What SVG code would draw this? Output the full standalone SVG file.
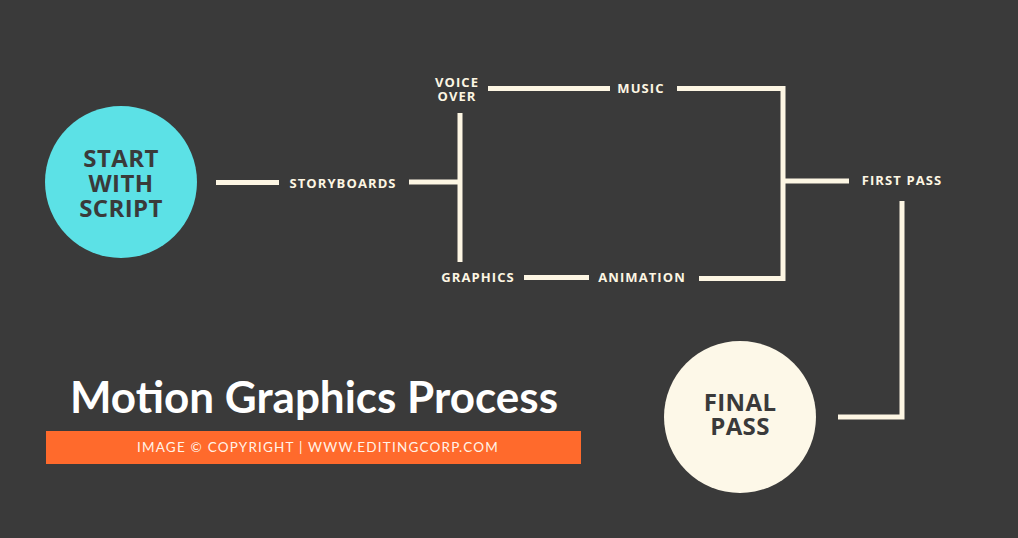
<svg xmlns="http://www.w3.org/2000/svg" width="1018" height="538" viewBox="0 0 1018 538">
<style>
.bg{fill:#3a3a3a}
.ln{stroke:#fdf6e3;stroke-width:5;fill:none;stroke-linecap:butt}
.lbl{font-family:"Open Sans","Liberation Sans",sans-serif;font-weight:700;font-size:13px;fill:#fdf6e3;text-anchor:middle;letter-spacing:1.1px}
.big{font-family:"Open Sans","Liberation Sans",sans-serif;font-weight:700;font-size:24px;fill:#3a3a3a;text-anchor:middle;letter-spacing:0.4px}
.title{font-family:Lato,"Liberation Sans",sans-serif;font-weight:700;font-size:44px;fill:#ffffff;text-anchor:middle}
.copy{font-family:Lato,"Liberation Sans",sans-serif;font-size:13.5px;fill:#fff3e8;text-anchor:middle;letter-spacing:1.2px}
</style>
<rect class="bg" x="0" y="0" width="1018" height="538"/>
<g id="connectors">
<path class="ln" d="M216 182.5H279"/>
<path class="ln" d="M409 182H460"/>
<path class="ln" d="M460 113V262"/>
<path class="ln" d="M488 88.5H610"/>
<path class="ln" d="M677 88.5H783V278.5H699"/>
<path class="ln" d="M524 277.5H589"/>
<path class="ln" d="M783 181H849"/>
<path class="ln" d="M902 201V417H838"/>
</g>
<g id="start">
<circle cx="121" cy="182" r="76" fill="#5ce1e6"/>
<text class="big" x="121" y="167">START</text>
<text class="big" x="121" y="192">WITH</text>
<text class="big" x="121" y="217">SCRIPT</text>
</g>
<g id="storyboards"><text class="lbl" x="343" y="188">STORYBOARDS</text></g>
<g id="voiceover"><text class="lbl" x="457" y="87">VOICE</text><text class="lbl" x="457" y="101">OVER</text></g>
<g id="music"><text class="lbl" x="641" y="93">MUSIC</text></g>
<g id="graphics"><text class="lbl" x="478" y="282">GRAPHICS</text></g>
<g id="animation"><text class="lbl" x="642" y="282">ANIMATION</text></g>
<g id="firstpass"><text class="lbl" x="902" y="185">FIRST PASS</text></g>
<g id="finalpass">
<circle cx="740" cy="417" r="76" fill="#fdf8e8"/>
<text class="big" x="740" y="411">FINAL</text>
<text class="big" x="740" y="435">PASS</text>
</g>
<g id="title">
<text class="title" x="314" y="413">Motion Graphics Process</text>
<rect x="46" y="431" width="535" height="33" fill="#ff6a2c"/>
<text class="copy" x="318" y="452">IMAGE © COPYRIGHT | WWW.EDITINGCORP.COM</text>
</g>
</svg>
